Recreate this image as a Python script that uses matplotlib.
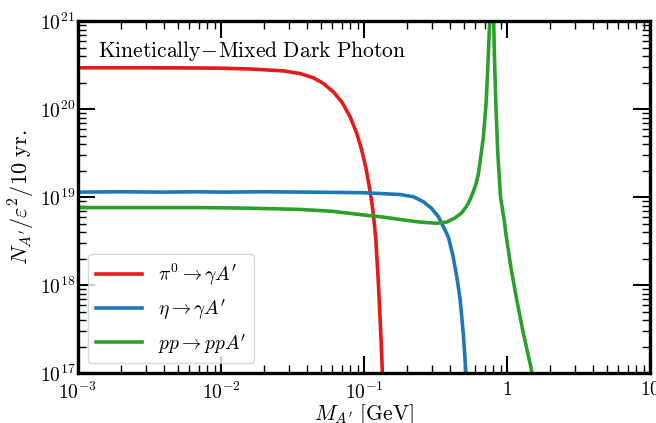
import math
import matplotlib
matplotlib.use("Agg")
import matplotlib.pyplot as plt
from matplotlib.ticker import LogLocator, FuncFormatter, NullFormatter

plt.rcParams['font.family'] = 'serif'
plt.rcParams['font.serif'] = ['cmr10']
plt.rcParams['mathtext.fontset'] = 'cm'
plt.rcParams['axes.formatter.use_mathtext'] = True

# pi0 -> gamma A'
m_pi0 = [0.001, 0.003, 0.006, 0.01, 0.016, 0.0273, 0.0356, 0.0442, 0.0519, 0.061,
         0.0698, 0.0798, 0.0889, 0.0964, 0.1033, 0.1089, 0.1135, 0.1165, 0.1207,
         0.1259, 0.1309, 0.1343, 0.135]
n_pi0 = [2.95e20, 2.95e20, 2.94e20, 2.92e20, 2.86e20, 2.72e20, 2.54e20, 2.27e20, 1.96e20, 1.57e20,
         1.21e20, 8.2e19, 5.3e19, 3.4e19, 2.1e19, 1.3e19, 8.5e18, 6.1e18, 3.4e18,
         1.05e18, 2.8e17, 1.0e17, 3e16]

# eta -> gamma A'
m_eta = [0.001, 0.002, 0.004, 0.007, 0.01, 0.02, 0.04, 0.07, 0.1, 0.129, 0.1786,
         0.2213, 0.26, 0.297, 0.331, 0.359, 0.389, 0.417, 0.445, 0.469, 0.494, 0.516, 0.525]
n_eta = [1.14e19, 1.15e19, 1.14e19, 1.15e19, 1.14e19, 1.15e19, 1.14e19, 1.13e19, 1.12e19, 1.10e19, 1.07e19,
         1.01e19, 8.85e18, 7.43e18, 5.97e18, 4.6e18, 3.5e18, 2.2e18, 1.24e18, 7.0e17, 2.82e17, 1.0e17, 5e16]

# pp -> pp A' (bremsstrahlung with rho/omega peak)
m_pp = [0.001, 0.003, 0.007, 0.015, 0.0356, 0.06, 0.0798, 0.11, 0.129, 0.1786, 0.2466,
        0.322, 0.378, 0.432, 0.48, 0.522, 0.555, 0.58, 0.605, 0.629, 0.647, 0.683, 0.713,
        0.732, 0.748, 0.765, 0.78, 0.80, 0.815, 0.834, 0.861, 0.90, 0.957, 0.979, 1.062,
        1.169, 1.30, 1.465, 1.6]
n_pp = [7.6e18, 7.6e18, 7.6e18, 7.5e18, 7.25e18, 6.9e18, 6.53e18, 6.15e18, 6.0e18, 5.57e18, 5.2e18,
        5.05e18, 5.2e18, 5.8e18, 6.6e18, 7.9e18, 9.6e18, 1.15e19, 1.4e19, 1.8e19, 2.5e19, 4.84e19, 1.16e20,
        2.77e20, 6.6e20, 1.6e21, 5e21, 1.6e21, 4.3e20, 1.16e20, 3.14e19, 1.0e19, 5.3e18, 3.9e18, 1.61e18,
        6.76e17, 2.82e17, 1.18e17, 5e16]

fig = plt.figure(figsize=(6.56, 4.23), dpi=100)
ax = fig.add_axes([0.119, 0.118, 0.872, 0.832])

lw = 2.6
ax.plot(m_pi0, n_pi0, color='#e41a1c', lw=lw, label=r"$\pi^0 \to \gamma A'$")
ax.plot(m_eta, n_eta, color='#1f77b4', lw=lw, label=r"$\eta \to \gamma A'$")
ax.plot(m_pp, n_pp, color='#2ca02c', lw=lw, label=r"$pp \to ppA'$")

ax.set_xscale('log')
ax.set_yscale('log')
ax.set_xlim(1e-3, 10)
ax.set_ylim(1e17, 1e21)


def xfmt(v, pos):
    if abs(v - 1) < 1e-9:
        return r'$1$'
    if abs(v - 10) < 1e-9:
        return r'$10$'
    return r'$10^{%d}$' % round(math.log10(v))


ax.xaxis.set_major_formatter(FuncFormatter(xfmt))
ax.xaxis.set_minor_locator(LogLocator(base=10, subs=range(2, 10), numticks=20))
ax.yaxis.set_minor_locator(LogLocator(base=10, subs=range(2, 10), numticks=20))
ax.xaxis.set_minor_formatter(NullFormatter())
ax.yaxis.set_minor_formatter(NullFormatter())

ax.tick_params(which='both', direction='in', top=True, right=True, labelsize=14)
ax.tick_params(which='major', length=12, width=1.5)
ax.tick_params(which='minor', length=6, width=1.0)
ax.tick_params(axis='y', pad=2)
ax.tick_params(axis='x', pad=6)
for s in ax.spines.values():
    s.set_linewidth(2.4)

ax.set_xlabel(r"$M_{A'}\ [\mathrm{GeV}]$", fontsize=15.5, labelpad=0)
ax.set_ylabel(r"$N_{A'}/\varepsilon^2/10\ \mathrm{yr.}$", fontsize=16, labelpad=2)

ax.text(0.035, 0.915, r"$\mathrm{Kinetically\!-\!Mixed\ Dark\ Photon}$", transform=ax.transAxes,
        fontsize=15.5, va='center', ha='left')

ax.legend(loc='lower left', fontsize=14, handlelength=2.4, borderaxespad=0.5)

fig.savefig('out.png', dpi=100)
